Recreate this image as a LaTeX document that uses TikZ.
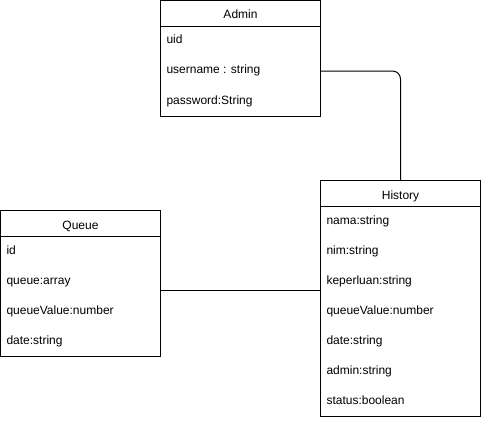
\documentclass[tikz,border=0pt]{standalone}
\usepackage{fontspec}
\setmainfont{Liberation Sans}
\begin{document}
\begin{tikzpicture}[
 x=1pt,y=-1pt,
 line width=1pt,
 every node/.style={font=\fontsize{12}{14}\selectfont},
 classbox/.style={draw,anchor=north west,inner sep=0pt,outer sep=0pt,
  minimum width=160pt},
 title/.style={anchor=base,inner sep=0pt},
 attr/.style={anchor=base west,inner sep=0pt,text height=9pt,text depth=3pt}
]
 \useasboundingbox (0,0) rectangle (481,420);

 % Class boxes, pixel coordinates of the original sketch.
 \node[classbox,minimum height=116pt] (admin) at (160.5,0.5) {};
 \node[classbox,minimum height=146pt] (queue) at (0.5,210.5) {};
 \node[classbox,minimum height=236pt] (history) at (320.5,180.5) {};
 \draw (admin.north west) ++(0,26) -- ++(160,0);
 \draw (queue.north west) ++(0,26) -- ++(160,0);
 \draw (history.north west) ++(0,26) -- ++(160,0);

 \node[title] (admintitle) at (240.5,19) {Admin};
 \node[title] (queuetitle) at (80.5,229) {Queue};
 \node[title] (historytitle) at (400.5,199) {History};

 \node[attr] (uid) at (166,44) {uid};
 \node[attr] (username) at (166,74) {username : string};
 \node[attr] (password) at (166,104) {password:String};

 \node[attr] (id) at (6,254) {id};
 \node[attr] (queuearr) at (6,284) {queue:array};
 \node[attr] (queueval) at (6,314) {queueValue:number};
 \node[attr] (queuedate) at (6,344) {date:string};

 \node[attr] (nama) at (326,224) {nama:string};
 \node[attr] (nim) at (326,254) {nim:string};
 \node[attr] (keperluan) at (326,284) {keperluan:string};
 \node[attr] (histval) at (326,314) {queueValue:number};
 \node[attr] (histdate) at (326,344) {date:string};
 \node[attr] (histadmin) at (326,374) {admin:string};
 \node[attr] (status) at (326,404) {status:boolean};

 % Links between the classes
 \coordinate (link) at (240,290.5);
 \draw[rounded corners=8pt] (admin.east |- username) -| (history.north);
 \draw (queue.east |- link) -- (history.west |- link);
\end{tikzpicture}
\end{document}
